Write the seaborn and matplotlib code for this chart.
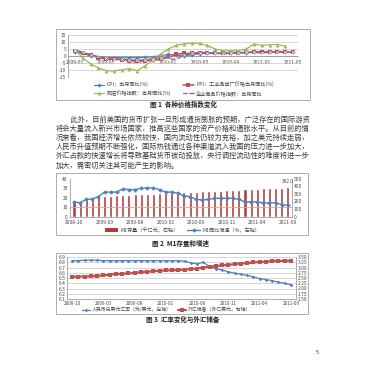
import matplotlib
matplotlib.use("Agg")
import matplotlib.pyplot as plt
import seaborn as sns
from matplotlib.patches import Rectangle, Patch
from matplotlib.lines import Line2D

# ---------------- data ----------------
# Figure 1: price indices (monthly, y/y %)
f1_xlabels = ["2009-01", "2009-05", "2009-09", "2010-01", "2010-05", "2010-09", "2011-01", "2011-05"]
f1_cpi = [3.1, 1.9, 0.2, -0.7, -1.2, -1.2, -1.2, -1.2, -1.2, -1.0, -0.5, 0.2, 1.2, 0.5, 0.0,
          1.0, 1.7, 1.9, 1.9, 1.9, 2.2, 2.4, 2.4, 2.6, 2.6, 2.6, 2.6, 2.6, 2.6]
f1_ppi = [3.3, 1.9, 0.5, -1.2, -2.2, -2.4, -2.6, -3.4, -3.4, -3.4, -3.1, -2.4, -1.0, 1.2, 1.9,
          1.9, 2.4, 2.4, 1.9, 1.9, 1.9, 2.4, 2.6, 2.9, 3.1, 2.9, 3.1, 2.9, 2.6]
f1_raw = [4.6, -1.5, -5.5, -8.5, -10.4, -10.8, -9.8, -9.0, -10.5, -7.0, -3.0, 1.5, 5.0, 7.6,
          8.6, 9.3, 9.0, 7.5, 5.0, 3.8, 3.8, 3.8, 5.0, 8.5, 7.6, 8.0, 8.2, 7.0]
f1_cgpi = [4.5, 2.5, 1.0, -0.3, -1.2, -1.8, -2.4, -2.8, -3.0, -2.8, -1.9, -1.2, -1.8, -2.4, 0.5,
           1.8, 2.0, 2.0, 2.0, 1.6, 2.0, 2.3, 2.5, 2.5, 2.3, 2.5, 2.7, 2.7, 2.5]
f1_names = ["CPI：当月同比(%)", "PPI：工业品出厂价格当月同比(%)",
            "购进价格指数：当月同比(%)", "企业商品价格指数：当月同比"]
f1_yticks = [-15, -10, -5, 0, 5, 10, 15]

# Figure 2: M1 stock (bars, right) and growth (line, left)
f2_xlabels = ["2008-10", "2009-03", "2009-08", "2010-01", "2010-06", "2010-11", "2011-04", "2011-09"]
f2_m1 = [218, 198, 228, 236, 256, 268, 274, 278, 286, 290, 292, 296, 300, 303, 306, 312, 318, 320,
         318, 322, 326, 330, 332, 336, 340, 346, 350, 356, 364, 368, 366, 372, 374, 376, 378, 392]
f2_growth = [15.6, 14.5, 18.2, 18.5, 21.1, 25.8, 25.8, 25.8, 29.1, 28.4, 28.4, 29.8, 30.2, 30.2,
             28.4, 25.8, 25.8, 24.7, 21.8, 21.1, 18.2, 17.5, 18.2, 19.3, 19.3, 19.3, 19.3, 18.2,
             15.6, 15.6, 15.6, 14.5, 14.5, 14.5, 12.7, 12.0]
f2_names = ["M1存量（千亿元，右轴）", "M1同比增速（%，左轴）"]
f2_left_ticks = [0, 10, 20, 30, 40]
f2_right_ticks = [0, 100, 200, 300, 400, 500]

# Figure 3: exchange rate (left) and FX reserves (right)
f3_xlabels = ["2008-10", "2009-03", "2009-08", "2010-01", "2010-06", "2010-11", "2011-04", "2011-09"]
f3_rate = [6.83, 6.83, 6.84, 6.84, 6.84, 6.83, 6.83, 6.83, 6.83, 6.83, 6.83, 6.83, 6.83, 6.83,
           6.83, 6.83, 6.83, 6.83, 6.82, 6.79, 6.77, 6.80, 6.71, 6.68, 6.65, 6.62, 6.59, 6.57,
           6.55, 6.52, 6.49, 6.47, 6.45, 6.42, 6.40, 6.37]
f3_reserve = [2.56, 2.57, 2.57, 2.58, 2.60, 2.62, 2.66, 2.69, 2.70, 2.72, 2.74, 2.78, 2.80, 2.82,
              2.85, 2.86, 2.87, 2.88, 2.90, 2.93, 2.95, 3.00, 3.03, 3.07, 3.10, 3.13, 3.16, 3.19,
              3.21, 3.24, 3.26, 3.28, 3.30, 3.31, 3.32, 3.32]
f3_names = ["人民币兑美元汇率（元/美元，左轴）", "外汇储备（万亿美元，右轴）"]
f3_left_ticks = [6.1, 6.2, 6.3, 6.4, 6.5, 6.6, 6.7, 6.8, 6.9]
f3_right_ticks = [1.5, 1.75, 2.0, 2.25, 2.5, 2.75, 3.0, 3.25, 3.5]

captions = ["图 1  各种价格指数变化", "图 2  M1存量和增速", "图 3  汇率变化与外汇储备"]
paragraph = [
    "　　此外，目前美国的货币扩张一旦形成通货膨胀的预期，广泛存在的国际游资",
    "将会大量流入新兴市场国家，推高这些国家的资产价格和通胀水平。从目前的情",
    "况来看，我国经济增长依然较快，国内流动性仍较为充裕，加之美元持续走弱，",
    "人民币升值预期不断强化，国际热钱通过各种渠道流入我国的压力进一步加大，",
    "外汇占款的快速增长将导致基础货币被动投放，央行调控流动性的难度将进一步",
    "加大，需密切关注其可能产生的影响。",
]
page_no = "5"

# ---------------- style ----------------
sns.set_style("white")
plt.rcParams['font.family'] = ['Noto Sans CJK SC', 'DejaVu Sans']
plt.rcParams['axes.unicode_minus'] = False

BLUE = "#4F81BD"
RED = "#C0504D"
DARKRED = "#B13F3C"
GREEN = "#9BBB59"
PURPLE = "#8064A2"
GRID = "#c8c8c8"
AXC = "#8a8a8a"
TXT = "#444444"

W, H = 365, 370
fig = plt.figure(figsize=(W / 100, H / 100), dpi=100)


def rect(x0, y0, x1, y1):
    return [x0 / W, 1 - y1 / H, (x1 - x0) / W, (y1 - y0) / H]


def fx(x):
    return x / W


def fy(y):
    return 1 - y / H


# chart frames
for (x0, y0, x1, y1) in [(56, 29, 310, 100), (56, 173, 308, 235), (56, 253, 308, 314)]:
    fig.patches.append(Rectangle((fx(x0), fy(y1)), (x1 - x0) / W, (y1 - y0) / H,
                                 transform=fig.transFigure, fill=False, ec="#a0a0a0", lw=0.6))

tick_kw = dict(labelsize=3.5, colors=TXT, width=0.4, length=1.5, pad=1.2)

# ---------------- Figure 1 ----------------
ax1 = fig.add_axes(rect(68, 35, 298, 77))
sns.lineplot(x=list(range(len(f1_cpi))), y=f1_cpi, ax=ax1, color=BLUE, marker="D",
             markersize=2.2, lw=0.9, mew=0, label=f1_names[0])
sns.lineplot(x=list(range(len(f1_ppi))), y=f1_ppi, ax=ax1, color=RED, marker="s",
             markersize=2.6, lw=1.1, mew=0, label=f1_names[1])
sns.lineplot(x=list(range(len(f1_raw))), y=f1_raw, ax=ax1, color=GREEN, marker="^",
             markersize=2.8, lw=0.9, mew=0, label=f1_names[2])
sns.lineplot(x=list(range(len(f1_cgpi))), y=f1_cgpi, ax=ax1, color=PURPLE, marker="x",
             markersize=1.8, lw=0.9, mew=0.5, label=f1_names[3])
ax1.set_xlim(-0.9, 28.65)
ax1.set_ylim(-15, 15)
ax1.set_yticks(f1_yticks)
ax1.set_yticklabels([str(v) for v in f1_yticks])
ax1.set_xticks(list(range(0, len(f1_cpi), 4)))
ax1.set_xticklabels(f1_xlabels)
ax1.yaxis.grid(True, color=GRID, lw=0.5)
ax1.set_axisbelow(True)
ax1.set_xlabel("")
ax1.set_ylabel("")
for s in ["top", "right"]:
    ax1.spines[s].set_visible(False)
ax1.spines["left"].set_color(AXC)
ax1.spines["left"].set_linewidth(0.5)
ax1.spines["bottom"].set_position(("data", 0))
ax1.spines["bottom"].set_color(AXC)
ax1.spines["bottom"].set_linewidth(0.5)
ax1.tick_params(axis="both", **tick_kw)
ax1.tick_params(axis="y", length=0)
h, l = ax1.get_legend_handles_labels()
order = [0, 2, 1, 3]
ax1.legend([h[i] for i in order], [l[i] for i in order], ncol=2, loc="upper left",
           bbox_to_anchor=(fx(94), fy(81.5)), bbox_transform=fig.transFigure, frameon=False,
           fontsize=3.7, labelcolor=TXT, handlelength=2.0, handletextpad=0.5,
           columnspacing=2.3, labelspacing=0.55, borderpad=0, borderaxespad=0)

# ---------------- Figure 2 ----------------
ax2b = fig.add_axes(rect(69.5, 178.5, 292, 216.7))
ax2l = ax2b.twinx()
idx2 = list(range(len(f2_m1)))
sns.barplot(x=idx2, y=f2_m1, ax=ax2b, color=DARKRED, width=0.5, saturation=1)
sns.lineplot(x=idx2, y=f2_growth, ax=ax2l, color=BLUE, marker="D", markersize=2.3,
             lw=1.0, mew=0)
ax2l.axhline(10, color="#d9a3a3", lw=0.6, zorder=0.5)
ax2b.text(len(f2_m1) - 1, f2_m1[-1] + 70, f"{f2_m1[-1]:.1f}", ha="center", va="center",
          fontsize=3.4, color=TXT)
ax2b.yaxis.tick_right()
ax2b.yaxis.set_label_position("right")
ax2l.yaxis.tick_left()
ax2l.yaxis.set_label_position("left")
ax2b.set_ylim(0, 500)
ax2b.set_yticks(f2_right_ticks)
ax2b.set_yticklabels([str(v) for v in f2_right_ticks])
ax2l.set_ylim(0, 40)
ax2l.set_yticks(f2_left_ticks)
ax2l.set_yticklabels([str(v) for v in f2_left_ticks])
ax2b.set_xticks(list(range(0, len(f2_m1), 5)))
ax2b.set_xticklabels(f2_xlabels)
ax2b.set_xlim(-0.74, 35.7)
for a in (ax2b, ax2l):
    a.set_xlabel("")
    a.set_ylabel("")
    a.spines["top"].set_visible(False)
    a.tick_params(axis="both", **tick_kw)
    a.tick_params(axis="y", length=0)
ax2b.spines["left"].set_visible(False)
ax2l.spines["right"].set_visible(False)
ax2l.spines["bottom"].set_visible(False)
for a, s in [(ax2b, "right"), (ax2b, "bottom"), (ax2l, "left")]:
    a.spines[s].set_color(AXC)
    a.spines[s].set_linewidth(0.5)
h2 = [Patch(facecolor=DARKRED, edgecolor="none"),
      Line2D([], [], color=BLUE, marker="D", ms=2.3, lw=1.0, mew=0)]
ax2l.legend(h2, f2_names, ncol=2, loc="center left", bbox_to_anchor=(fx(105), fy(230)),
            bbox_transform=fig.transFigure, frameon=False, fontsize=3.7, labelcolor=TXT,
            handlelength=2.6, handleheight=0.6, handletextpad=0.4, columnspacing=1.6,
            borderpad=0, borderaxespad=0)

# ---------------- Figure 3 ----------------
ax3 = fig.add_axes(rect(67, 257, 296, 299))
ax3r = ax3.twinx()
idx3 = list(range(len(f3_rate)))
sns.lineplot(x=idx3, y=f3_rate, ax=ax3, color=BLUE, marker="D", markersize=1.8, lw=0.9, mew=0)
sns.lineplot(x=idx3, y=f3_reserve, ax=ax3r, color=RED, marker="s", markersize=2.6, lw=1.6,
             mew=0)
ax3.set_ylim(6.1, 6.9)
ax3.set_yticks(f3_left_ticks)
ax3.set_yticklabels([f"{v:.1f}" for v in f3_left_ticks])
ax3r.set_ylim(1.5, 3.5)
ax3r.set_yticks(f3_right_ticks)
ax3r.set_yticklabels([f"{v:.2f}" for v in f3_right_ticks])
ax3.yaxis.grid(True, color=GRID, lw=0.5)
ax3.set_axisbelow(True)
ax3.set_xticks(list(range(0, len(f3_rate), 5)))
ax3.set_xticklabels(f3_xlabels)
ax3.set_xlim(-0.8, 35.8)
for a in (ax3, ax3r):
    a.set_xlabel("")
    a.set_ylabel("")
    a.spines["top"].set_visible(False)
    a.tick_params(axis="both", **tick_kw)
    a.tick_params(axis="y", length=0)
ax3.tick_params(axis="x", labelsize=3.3, length=1.0, pad=0.4)
ax3.spines["right"].set_visible(False)
ax3r.spines["left"].set_visible(False)
ax3r.spines["bottom"].set_visible(False)
for a, s in [(ax3, "left"), (ax3, "bottom"), (ax3r, "right")]:
    a.spines[s].set_color(AXC)
    a.spines[s].set_linewidth(0.5)
h3 = [Line2D([], [], color=BLUE, marker="D", ms=1.8, lw=0.9, mew=0),
      Line2D([], [], color=RED, marker="s", ms=2.6, lw=1.6, mew=0)]
ax3r.legend(h3, f3_names, ncol=2, loc="center left", bbox_to_anchor=(fx(82), fy(309.5)),
            bbox_transform=fig.transFigure, frameon=False, fontsize=3.5, labelcolor=TXT,
            handlelength=1.6, handletextpad=0.5, columnspacing=1.2, borderpad=0,
            borderaxespad=0)

# ---------------- captions, paragraph, page number ----------------
for (cx, cy), cap in zip([(183, 104.5), (180, 243), (183, 319)], captions):
    fig.text(fx(cx), fy(cy), cap, ha="center", va="center", fontsize=4.7,
             fontweight="bold", color="#222222")

line_y = [120, 129, 138, 147, 156, 165.5]
for y, line in zip(line_y, paragraph):
    fig.text(fx(56), fy(y), line, ha="left", va="center", fontsize=5.22, color="#3c3c3c")

fig.text(fx(317), fy(352), page_no, ha="center", va="center", fontsize=4, color="#333333")

fig.savefig("out.png", dpi=100, facecolor="white")
